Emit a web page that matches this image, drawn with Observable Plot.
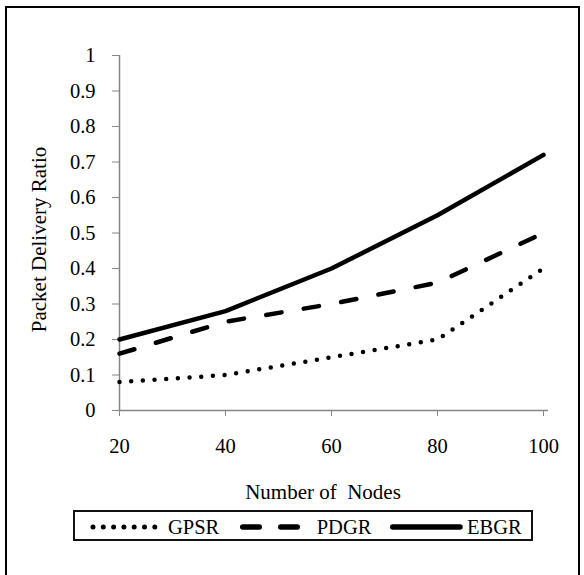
<!DOCTYPE html>
<html><head><meta charset="utf-8">
<script src="https://cdn.jsdelivr.net/npm/d3@7"></script>
<script src="https://cdn.jsdelivr.net/npm/@observablehq/plot@0.6"></script>
<style>
html,body{margin:0;padding:0;background:#fff;overflow:hidden;width:584px;height:575px;}
#wrap{position:relative;width:584px;height:575px;overflow:hidden;font-family:"Liberation Serif","Times New Roman",serif;}
#border{position:absolute;left:5px;top:6px;width:571px;height:620px;border:2px solid #000;}
#chart{position:absolute;left:0;top:0;}
#legend{position:absolute;left:73px;top:510px;width:456px;height:27px;border:2px solid #111;background:#fff;}
#legend svg{position:absolute;left:0;top:0;overflow:visible;}
svg text{white-space:pre;}
</style></head><body>
<div id="wrap"><div id="border"></div><div id="chart"></div><div id="legend"></div></div>
<script>
// ---- data ----
const nodes = [20, 40, 60, 80, 100];
const gpsr = [0.08, 0.10, 0.15, 0.20, 0.40];
const pdgr = [0.16, 0.25, 0.30, 0.36, 0.50];
const ebgr = [0.20, 0.28, 0.40, 0.55, 0.72];
const seriesNames = ["GPSR", "PDGR", "EBGR"];
const yTicks = [0, 0.1, 0.2, 0.3, 0.4, 0.5, 0.6, 0.7, 0.8, 0.9, 1];
const yTickLabels = ["0", "0.1", "0.2", "0.3", "0.4", "0.5", "0.6", "0.7", "0.8", "0.9", "1"];
const xTicks = [20, 40, 60, 80, 100];
const xTickLabels = ["20", "40", "60", "80", "100"];
const xTitle = "Number of  Nodes";
const yTitle = "Packet Delivery Ratio";

// ---- styles ----
const FONT = 20.5;
const TITLE_FONT = 21;
const AXIS = "#868686";
const styles = {
  GPSR: {strokeWidth: 4.5, strokeDasharray: "0 11.7"},
  PDGR: {strokeWidth: 4.5, strokeDasharray: "15.5 22.5"},
  EBGR: {strokeWidth: 4.5, strokeDasharray: null}
};

const valuesBySeries = {GPSR: gpsr, PDGR: pdgr, EBGR: ebgr};
const table = seriesNames.flatMap(s => nodes.map((n, i) => ({series: s, nodes: n, value: valuesBySeries[s][i]})));

const lineMarks = seriesNames.map(s => Plot.line(table.filter(d => d.series === s), {
  x: "nodes", y: "value", stroke: "#000",
  strokeWidth: styles[s].strokeWidth,
  strokeDasharray: styles[s].strokeDasharray,
  strokeLinecap: "round", strokeLinejoin: "round"
}));

const chart = Plot.plot({
  width: 584, height: 505,
  marginLeft: 119, marginRight: 36, marginTop: 55, marginBottom: 95,
  style: {fontFamily: '"Liberation Serif","Times New Roman",serif', fontSize: FONT + "px", color: "#000", background: "transparent", overflow: "visible"},
  x: {domain: [20, 100], range: [119, 543]},
  y: {domain: [0, 1]},
  marks: [
    Plot.ruleX([20], {stroke: AXIS, strokeWidth: 1.5}),
    Plot.ruleY([0], {stroke: AXIS, strokeWidth: 1.5}),
    Plot.axisY(yTicks, {tickSize: 7, tickPadding: 17, stroke: AXIS, fill: "#000", fontSize: FONT, label: null,
      tickFormat: d => yTickLabels[yTicks.indexOf(d)]}),
    Plot.axisX(xTicks, {tickSize: 6, tickPadding: 22, stroke: AXIS, fill: "#000", fontSize: FONT, label: null,
      tickFormat: d => xTickLabels[xTicks.indexOf(d)]}),
    ...lineMarks,
    Plot.text([yTitle], {text: d => d, frameAnchor: "left", textAnchor: "middle", lineAnchor: "middle",
      rotate: -90, dx: -80, dy: 6.5, fontSize: TITLE_FONT, fill: "#000"}),
    Plot.text([xTitle], {text: d => d, frameAnchor: "bottom", textAnchor: "middle", lineAnchor: "middle",
      dx: -11, dy: 82, fontSize: TITLE_FONT, fill: "#000"})
  ]
});
document.getElementById("chart").appendChild(chart);

// ---- legend ----
const leg = d3.select("#legend").append("svg").attr("width", 456).attr("height", 27);
const legItems = [
  {name: "GPSR", x1: 18, x2: 80, dash: "0 10.3", w: 5, tx: 93},
  {name: "PDGR", x1: 167.75, x2: 222.25, dash: "16.5 21.5", w: 5.5, tx: 241.7},
  {name: "EBGR", x1: 317.75, x2: 385, dash: null, w: 5.5, tx: 392}
];
legItems.forEach(it => {
  leg.append("line").attr("x1", it.x1).attr("x2", it.x2).attr("y1", 15).attr("y2", 15)
    .attr("stroke", "#000").attr("stroke-width", it.w).attr("stroke-linecap", "round")
    .attr("stroke-dasharray", it.dash);
  leg.append("text").attr("x", it.tx).attr("y", 21.8).text(it.name)
    .attr("font-family", '"Liberation Serif","Times New Roman",serif').attr("font-size", FONT).attr("fill", "#000");
});
</script>
</body></html>
